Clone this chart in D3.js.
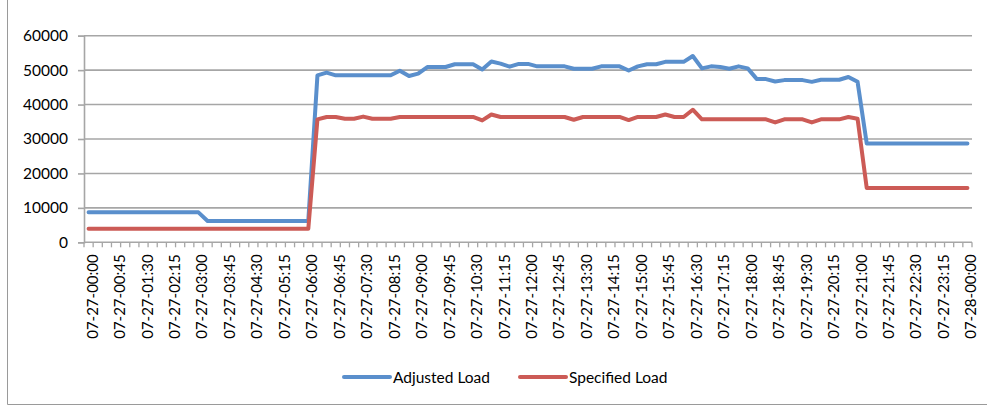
<!DOCTYPE html>
<html><head><meta charset="utf-8">
<script src="https://cdn.jsdelivr.net/npm/d3@7"></script>
<style>html,body{margin:0;padding:0;background:#fff;}svg{display:block;}</style>
</head><body>
<svg id="chart" width="987" height="406"></svg>
<script>
// ---- data ----
const categories = [];
for (let i = 0; i <= 96; i++) {
  const h = Math.floor(i / 4) % 24, m = (i % 4) * 15;
  const day = i === 96 ? "07-28" : "07-27";
  categories.push(day + "-" + String(h).padStart(2, "0") + ":" + String(m).padStart(2, "0"));
}
const adjustedLoad = [
  8700,8700,8700,8700,8700,8700,8700,8700,8700,8700,8700,8700,8700,
  6200,6200,6200,6200,6200,6200,6200,6200,6200,6200,6200,6200,
  48500,49300,48500,48500,48500,48500,48500,48500,48500,49800,48300,49000,
  50900,50900,50900,51700,51700,51700,50200,52500,51900,51000,51800,51800,
  51100,51100,51100,51100,50400,50400,50400,51100,51100,51100,49900,51100,
  51700,51700,52400,52400,52400,54100,50500,51100,50900,50400,51100,50500,
  47400,47400,46700,47100,47100,47100,46600,47200,47200,47200,48000,46600,
  28700,28700,28700,28700,28700,28700,28700,28700,28700,28700,28700,28700
];
const specifiedLoad = [
  3900,3900,3900,3900,3900,3900,3900,3900,3900,3900,3900,3900,3900,
  3900,3900,3900,3900,3900,3900,3900,3900,3900,3900,3900,3900,
  35700,36400,36400,35900,35900,36500,35900,35900,35900,36400,36400,36400,
  36400,36400,36400,36400,36400,36400,35400,37100,36400,36400,36400,36400,
  36400,36400,36400,36400,35600,36400,36400,36400,36400,36400,35500,36400,
  36400,36400,37100,36400,36400,38500,35700,35700,35700,35700,35700,35700,
  35700,35700,34800,35700,35700,35700,34800,35700,35700,35700,36400,35900,
  15800,15800,15800,15800,15800,15800,15800,15800,15800,15800,15800,15800
];
const yTicks = [0,10000,20000,30000,40000,50000,60000];
const seriesNames = ["Adjusted Load", "Specified Load"];
const seriesColors = ["#5A8FCC", "#CC5B56"];

// ---- chart ----
(function () {
const svg = d3.select("#chart");
const font = "Lato, 'Open Sans', sans-serif";
const pLeft = 84, pRight = 972, pTop = 35.7, pBottom = 242.3;

// outer chart border
svg.append("line").attr("x1",7.5).attr("x2",7.5).attr("y1",0).attr("y2",404.5).attr("stroke","#9a9a9a").attr("stroke-width",1);
svg.append("line").attr("x1",7.5).attr("x2",987).attr("y1",404.5).attr("y2",404.5).attr("stroke","#9a9a9a").attr("stroke-width",1);

const x = d3.scalePoint().domain(categories).range([pLeft, pRight]).padding(0.5);
const xb = d3.scaleBand().domain(categories).range([pLeft, pRight]);
const y = d3.scaleLinear().domain([0, 60000]).range([pBottom, pTop]);

// gridlines
svg.append("g").selectAll("line").data(yTicks.filter(d => d > 0)).join("line")
  .attr("x1", pLeft).attr("x2", pRight)
  .attr("y1", d => y(d)).attr("y2", d => y(d))
  .attr("stroke", "#a6a6a6").attr("stroke-width", 1.6);

// y axis
const yAxis = svg.append("g").attr("transform", `translate(${pLeft},0)`)
  .call(d3.axisLeft(y).tickValues(yTicks).tickSize(6).tickPadding(10).tickFormat(d3.format("d")));
yAxis.select(".domain").attr("stroke", "#a6a6a6").attr("stroke-width", 1.6);
yAxis.selectAll(".tick line").attr("stroke", "#a6a6a6").attr("stroke-width", 1.6);
yAxis.selectAll("text").attr("font-family", font).attr("font-size", 15.5).attr("fill", "#000");

// x axis line
svg.append("line").attr("x1", pLeft).attr("x2", pRight).attr("y1", pBottom).attr("y2", pBottom)
  .attr("stroke", "#a6a6a6").attr("stroke-width", 1.6);
// category boundary ticks
const bounds = categories.map(c => xb(c)).concat([xb(categories[categories.length-1]) + xb.bandwidth()]);
svg.append("g").selectAll("line").data(bounds).join("line")
  .attr("x1", d => d).attr("x2", d => d).attr("y1", pBottom).attr("y2", pBottom + 5)
  .attr("stroke", "#a6a6a6").attr("stroke-width", 1.3);

// x labels every 3rd category
svg.append("g").selectAll("text").data(categories.filter((c, i) => i % 3 === 0)).join("text")
  .attr("transform", d => `translate(${x(d) + 3},${pBottom + 12}) rotate(-90)`)
  .attr("text-anchor", "end").attr("dominant-baseline", "central")
  .attr("font-family", font).attr("font-size", 15).attr("fill", "#000")
  .text(d => d);

// lines
const line = d3.line().x((d, i) => x(categories[i])).y(d => y(d));
[adjustedLoad, specifiedLoad].forEach((s, k) => {
  svg.append("path").datum(s).attr("d", line).attr("fill", "none")
    .attr("stroke", seriesColors[k]).attr("stroke-width", 4)
    .attr("stroke-linejoin", "round").attr("stroke-linecap", "round");
});

// legend
const legendX = [344, 520];
seriesNames.forEach((n, k) => {
  const g = svg.append("g").attr("transform", `translate(${legendX[k]},377)`);
  g.append("line").attr("x1", 0).attr("x2", 46).attr("y1", 0).attr("y2", 0)
    .attr("stroke", seriesColors[k]).attr("stroke-width", 4).attr("stroke-linecap", "round");
  g.append("text").attr("x", 49).attr("y", 0).attr("dominant-baseline", "central")
    .attr("font-family", font).attr("font-size", 15.5).attr("fill", "#000").text(n);
});
})();
</script>
</body></html>
